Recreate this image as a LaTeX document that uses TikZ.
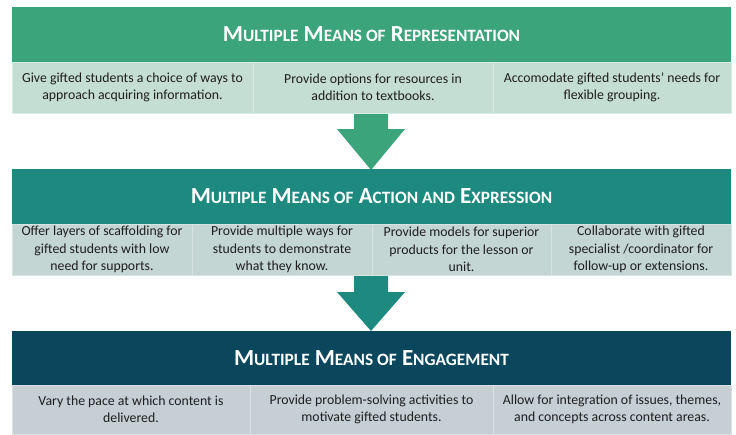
\documentclass[tikz,border=0pt]{standalone}
\usepackage{fontspec}
\setmainfont{Carlito}

\definecolor{repgreen}{RGB}{60,164,122}
\definecolor{repcell}{RGB}{197,222,211}
\definecolor{actteal}{RGB}{30,137,127}
\definecolor{actcell}{RGB}{195,214,211}
\definecolor{engblue}{RGB}{10,71,92}
\definecolor{engcell}{RGB}{197,207,212}
\definecolor{celltext}{RGB}{30,30,30}

\tikzset{
    head/.style={fill=#1, text=white, minimum width=719pt, inner sep=0pt,
        font=\fontsize{23}{27}\selectfont\bfseries},
    cell/.style={fill=#1, draw=white!35!#1, line width=0.8pt, inner sep=0pt,
        align=center, text=celltext, font=\fontsize{13.8}{17.5}\selectfont},
}
\newcommand\lowcaps[1]{{\fontsize{17.3}{20}\selectfont #1}}

\begin{document}
\begin{tikzpicture}[x=1pt, y=-1pt]
            \useasboundingbox (0, 0) rectangle (736, 434);
            %\draw[lightgray] (0, 0) grid[step=50] (736, 434);

            % arrows between the bands
            \fill[repgreen] (354, 113) -- (388, 113) -- (388, 129) -- (405, 129)
                -- (371, 170) -- (337, 129) -- (354, 129) -- cycle;
            \fill[actteal] (354, 275) -- (388, 275) -- (388, 292) -- (405, 292)
                -- (371, 331) -- (337, 292) -- (354, 292) -- cycle;

            % representation
            \node[head=repgreen, minimum height=55pt] (rep) at (371.5, 34.5)
                {M\lowcaps{ULTIPLE} M\lowcaps{EANS OF} R\lowcaps{EPRESENTATION}};
            \node[cell=repcell, minimum width=241pt, minimum height=51pt] (rep1) at (132.5, 87.5)
                {Give gifted students a choice of ways to\\approach acquiring information.};
            \node[cell=repcell, minimum width=240pt, minimum height=51pt] (rep2) at (373, 87.5)
                {Provide options for resources in\\addition to textbooks.};
            \node[cell=repcell, minimum width=238pt, minimum height=51pt] (rep3) at (612, 87.5)
                {Accomodate gifted students' needs for\\flexible grouping.};

            % action and expression
            \node[head=actteal, minimum height=55pt] (act) at (371.5, 196.5)
                {M\lowcaps{ULTIPLE} M\lowcaps{EANS OF} A\lowcaps{CTION AND} E\lowcaps{XPRESSION}};
            \node[cell=actcell, minimum width=180pt, minimum height=51pt] (act1) at (102, 249.5)
                {Offer layers of scaffolding for\\gifted students with low\\need for supports.};
            \node[cell=actcell, minimum width=180pt, minimum height=51pt] (act2) at (282, 249.5)
                {Provide multiple ways for\\students to demonstrate\\what they know.};
            \node[cell=actcell, minimum width=179pt, minimum height=51pt] (act3) at (461.5, 249.5)
                {Provide models for superior\\products for the lesson or\\unit.};
            \node[cell=actcell, minimum width=180pt, minimum height=51pt] (act4) at (641, 249.5)
                {Collaborate with gifted\\specialist /coordinator for\\follow-up or extensions.};

            % engagement
            \node[head=engblue, minimum height=54pt] (eng) at (371.5, 358)
                {M\lowcaps{ULTIPLE} M\lowcaps{EANS OF} E\lowcaps{NGAGEMENT}};
            \node[cell=engcell, minimum width=238pt, minimum height=49pt] (eng1) at (131, 409.5)
                {Vary the pace at which content is\\delivered.};
            \node[cell=engcell, minimum width=243pt, minimum height=49pt] (eng2) at (371.5, 409.5)
                {Provide problem-solving activities to\\motivate gifted students.};
            \node[cell=engcell, minimum width=238pt, minimum height=49pt] (eng3) at (612, 409.5)
                {Allow for integration of issues, themes,\\and concepts across content areas.};
\end{tikzpicture}
\end{document}
